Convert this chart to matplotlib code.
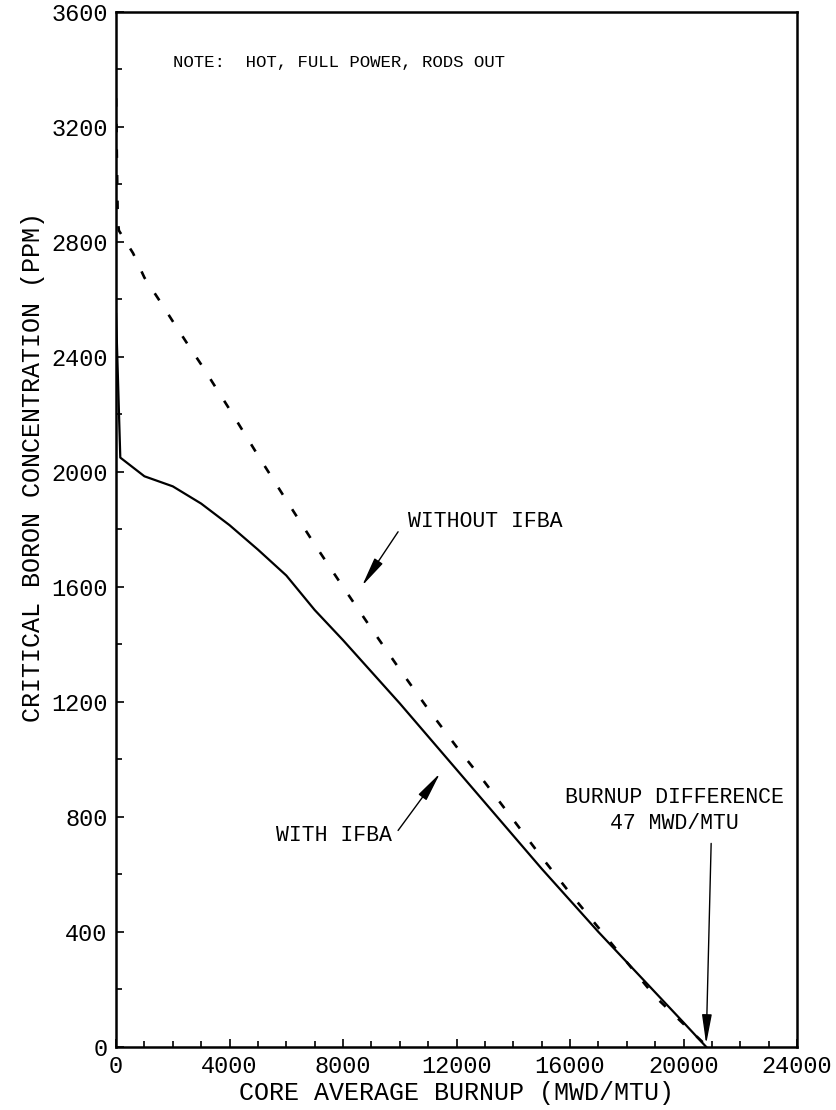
import numpy as np
import matplotlib
matplotlib.use('Agg')
import matplotlib.pyplot as plt
from matplotlib.ticker import MultipleLocator

# core average burnup (MWD/MTU) vs critical boron (PPM)
burnup_ifba = [0, 150, 1000, 2000, 3000, 4000, 5000, 6000, 7000, 8000, 9000, 10000,
               11000, 12000, 13000, 14000, 15000, 16000, 17000, 18000, 19000, 20000, 20800]
boron_ifba = [2550, 2050, 1985, 1950, 1890, 1815, 1730, 1640, 1520, 1415, 1305, 1195,
              1080, 965, 850, 735, 620, 510, 400, 295, 190, 85, 0]

burnup_noifba = [0, 60, 100, 600, 1000, 1500, 2000, 2500, 3000, 4000, 5000, 6000, 7000,
                 8000, 9000, 10000, 11000, 12000, 13000, 14000, 15000, 16000, 17000,
                 18000, 19000, 20000, 20850]
boron_noifba = [3300, 2880, 2840, 2761, 2676, 2601, 2524, 2448, 2374, 2218, 2058, 1902, 1748,
                1600, 1455, 1313, 1175, 1044, 920, 790, 660, 535, 415,
                295, 175, 80, 0]

x_ticks = [0, 4000, 8000, 12000, 16000, 20000, 24000]
y_ticks = [0, 400, 800, 1200, 1600, 2000, 2400, 2800, 3200, 3600]

note = 'NOTE:  HOT, FULL POWER, RODS OUT'
FONT = 'Liberation Mono'


def arrow(ax, start, tip):
    ax.annotate('', xy=tip, xytext=start,
                arrowprops=dict(arrowstyle='-|>,head_length=1.8,head_width=0.3',
                                lw=1.0, color='black', shrinkA=0, shrinkB=0))


def main():
    plt.rcParams['font.family'] = [FONT, 'DejaVu Sans']
    fig = plt.figure(figsize=(8.36, 11.10), dpi=100)
    ax = fig.add_axes([0.1388, 0.0568, 0.8146, 0.9324])

    ax.plot(burnup_ifba, boron_ifba, '-', color='black', lw=1.6)
    ax.plot(burnup_noifba, boron_noifba, color='black', lw=1.9, dashes=(3.2, 6.5))

    ax.set_xlim(0, 24000)
    ax.set_ylim(0, 3600)
    ax.set_xticks(x_ticks)
    ax.set_yticks(y_ticks)
    ax.xaxis.set_minor_locator(MultipleLocator(1000))
    ax.yaxis.set_minor_locator(MultipleLocator(200))
    ax.tick_params(which='both', direction='in', top=False, right=False,
                   width=1.2, labelsize=17, colors='black')
    ax.tick_params(which='major', length=6, pad=6)
    ax.tick_params(which='minor', length=4)
    for s in ax.spines.values():
        s.set_linewidth(1.8)

    ax.set_xlabel('CORE AVERAGE BURNUP (MWD/MTU)', fontsize=18, labelpad=2)
    ax.set_ylabel('CRITICAL BORON CONCENTRATION (PPM)', fontsize=18)
    ax.yaxis.set_label_coords(-0.105, 0.56)

    ax.text(2009, 3424, note, fontsize=12.5, va='center', ha='left')
    ax.text(10300, 1827, 'WITHOUT IFBA', fontsize=15.5, va='center', ha='left')
    arrow(ax, (9940, 1792), (8671, 1604))
    ax.text(9729, 736, 'WITH IFBA', fontsize=15.5, va='center', ha='right')
    arrow(ax, (9940, 753), (11420, 952))
    ax.text(19670, 868, 'BURNUP DIFFERENCE', fontsize=15.5, va='center', ha='center')
    ax.text(19670, 778, '47 MWD/MTU', fontsize=15.5, va='center', ha='center')
    arrow(ax, (20973, 708), (20797, 10))

    fig.savefig('out.png', dpi=100)


if __name__ == "__main__":
    main()
